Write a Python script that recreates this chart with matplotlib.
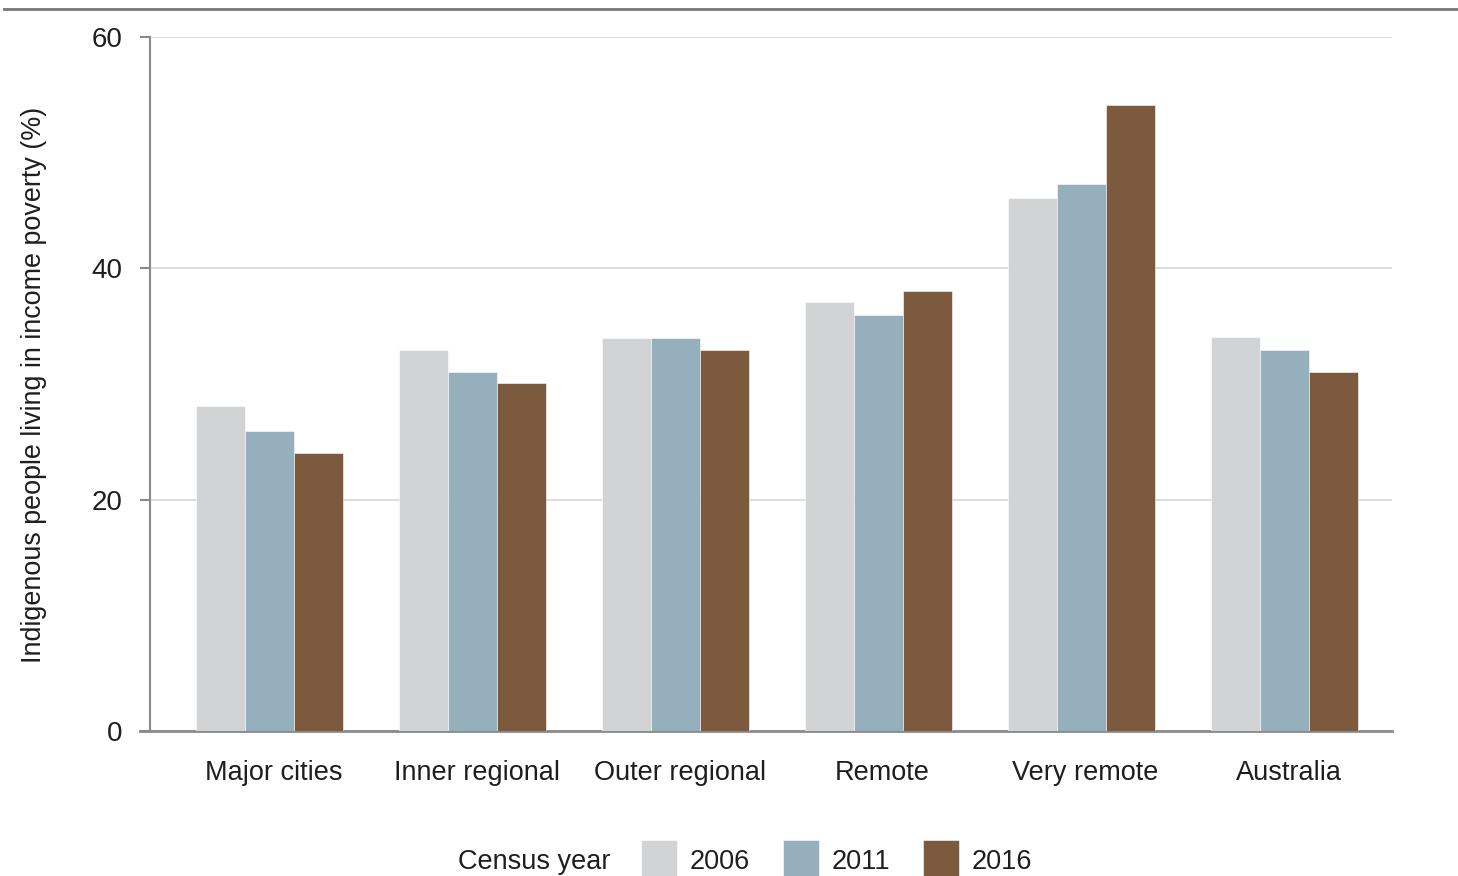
import numpy as np
import matplotlib.pyplot as plt
from matplotlib.lines import Line2D

plt.rcParams['font.family'] = ['Liberation Sans', 'DejaVu Sans']

# data
regions = ['Major cities', 'Inner regional', 'Outer regional', 'Remote', 'Very remote', 'Australia']
years = ['2006', '2011', '2016']
pov_2006 = [28.1, 32.9, 34.0, 37.1, 46.1, 34.1]
pov_2011 = [25.9, 31.0, 34.0, 36.0, 47.3, 32.9]
pov_2016 = [24.0, 30.1, 32.9, 38.0, 54.1, 31.0]
yticks = [0, 20, 40, 60]

colors = ['#d2d3d5', '#95afbd', '#7b5a3d']
grey = '#8a8a8a'
txt = '#1e1e1e'

fig = plt.figure(figsize=(14.58, 8.76), dpi=100)
ax = fig.add_axes([150/1458, 1 - 731/876, (1392-150)/1458, (731-37)/876])

x = np.arange(len(regions))
w = 0.242
for i, vals in enumerate([pov_2006, pov_2011, pov_2016]):
    ax.bar(x + (i - 1) * w, vals, w, color=colors[i], label=years[i],
           edgecolor='white', linewidth=0.4, zorder=3)

ax.set_xlim(-0.59, 5.53)
ax.set_ylim(0, 60)
ax.set_yticks(yticks)
ax.set_xticks(x + 0.02)
ax.set_xticklabels(regions, fontsize=19.5, color=txt)
ax.tick_params(axis='x', length=0, pad=21)
ax.tick_params(axis='y', length=7, width=1.5, color=grey, labelsize=20,
               labelcolor=txt, pad=13)
ax.grid(axis='y', color='#dddddd', linewidth=1.5, zorder=0)

for s in ['top', 'right']:
    ax.spines[s].set_visible(False)
ax.spines['left'].set_color(grey)
ax.spines['left'].set_linewidth(1.5)
ax.spines['bottom'].set_color(grey)
ax.spines['bottom'].set_linewidth(2)
ax.spines['bottom'].set_bounds(-0.64, 5.53)
ax.spines['bottom'].set_clip_on(False)

ax.set_ylabel('Indigenous people living in income poverty (%)', fontsize=19.4,
              color=txt)
ax.yaxis.set_label_coords((47 - 150) / 1242, 0.4986)

# top rule line
fig.add_artist(Line2D([0.003, 1.0], [1 - 9/876, 1 - 9/876], color='#777777', linewidth=2))

# legend
fig.text(458/1458, 1 - 862/876, 'Census year', fontsize=19.5, color=txt, va='center')
fig.legend(loc='center left', bbox_to_anchor=(641/1458, 1 - 860/876), ncol=3,
           frameon=False, fontsize=19.5, handlelength=1.33, handleheight=1.9,
           columnspacing=1.2, handletextpad=0.48, borderpad=0, borderaxespad=0,
           labelcolor=txt)

fig.savefig('out.png', dpi=100)
